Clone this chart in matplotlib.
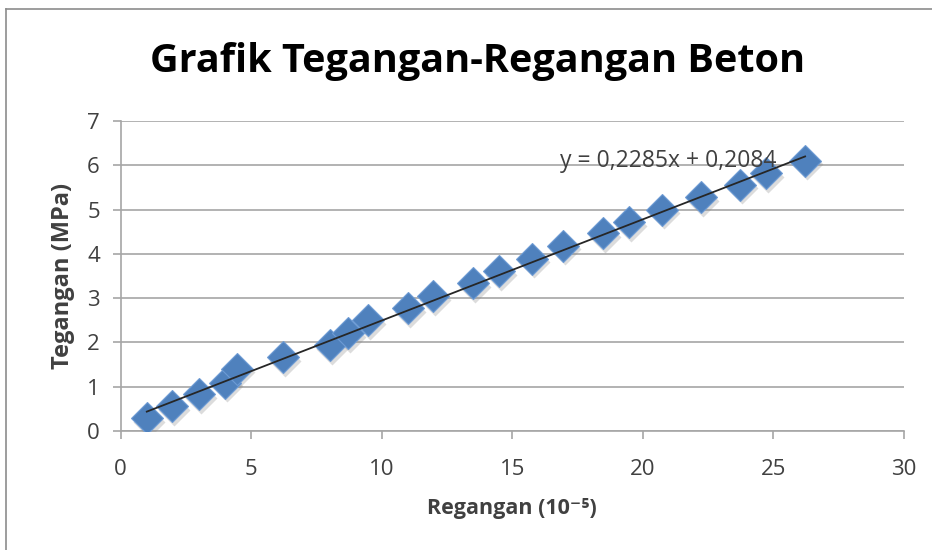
import matplotlib.pyplot as plt
from matplotlib.lines import Line2D
import numpy as np

plt.rcParams["font.family"] = ["Open Sans", "DejaVu Sans"]

# strain (x 10^-5) and stress (MPa)
regangan = [1.0, 1.95, 3.0, 4.0, 4.47, 6.23, 8.02, 8.72, 9.46, 11.0, 11.95,
            13.49, 14.49, 15.75, 16.93, 18.48, 19.47, 20.75, 22.22, 23.73,
            24.71, 26.22]
tegangan = [0.29, 0.56, 0.83, 1.09, 1.41, 1.66, 1.94, 2.21, 2.50, 2.77, 3.04,
            3.34, 3.61, 3.89, 4.18, 4.46, 4.72, 5.00, 5.28, 5.56, 5.82, 6.10]

# linear trendline as printed on the chart
SLOPE = 0.2285
INTERCEPT = 0.2084

x_ticks = [0, 5, 10, 15, 20, 25, 30]
y_ticks = [0, 1, 2, 3, 4, 5, 6, 7]

GRID = "#a6a6a6"
TEXT = "#404040"
BLUE = "#4f81bd"

fig = plt.figure(figsize=(9.32, 5.50), dpi=100)
ax = fig.add_axes([0.1295, 0.2164, 0.8402, 0.5636])

x = np.array(regangan)
y = np.array(tegangan)

# soft shadow under the markers, then the markers themselves
ax.plot(x + 0.08, y - 0.08, "D", ms=16, color="#8c8c8c", alpha=0.3,
        mec="none", zorder=3)
ax.plot(x, y, "D", ms=16, color=BLUE, mec="#6d9bd4", mew=0.8, zorder=4)

xl = np.array([x.min(), x.max()])
ax.plot(xl, SLOPE * xl + INTERCEPT, color="#262626", lw=1.3, zorder=5)

ax.text(20.97, 6.1, "y = 0,2285x + 0,2084", fontsize=16.5, color=TEXT,
        ha="center", va="center", zorder=6)

ax.set_xlim(0, 30)
ax.set_ylim(0, 7)
ax.set_xticks(x_ticks)
ax.set_yticks(y_ticks)
ax.grid(axis="y", color=GRID, lw=1.2)
ax.set_axisbelow(True)
for side in ("top", "right"):
    ax.spines[side].set_visible(False)
for side in ("left", "bottom"):
    ax.spines[side].set_color(GRID)
    ax.spines[side].set_linewidth(1.2)
ax.tick_params(axis="both", direction="out", length=6, width=1.2,
               color=GRID, labelcolor=TEXT, labelsize=16)
ax.tick_params(axis="x", pad=14)
ax.tick_params(axis="y", pad=9)

ax.set_xlabel("Regangan (10⁻⁵)", fontsize=15.5, fontweight="bold",
              color=TEXT, labelpad=13)
ax.set_ylabel("Tegangan (MPa)", fontsize=17, fontweight="bold",
              color=TEXT, labelpad=9)

fig.text(0.512, 0.888, "Grafik Tegangan-Regangan Beton", fontsize=28.5,
         fontweight="bold", ha="center", va="center", color="black")

# chart frame (left and top edges visible in the crop)
fig.add_artist(Line2D([0.006, 0.006], [0.0, 0.984], transform=fig.transFigure,
                      color="#8c8c8c", lw=1.2))
fig.add_artist(Line2D([0.006, 1.0], [0.984, 0.984], transform=fig.transFigure,
                      color="#8c8c8c", lw=1.2))

fig.savefig("out.png", dpi=100)
